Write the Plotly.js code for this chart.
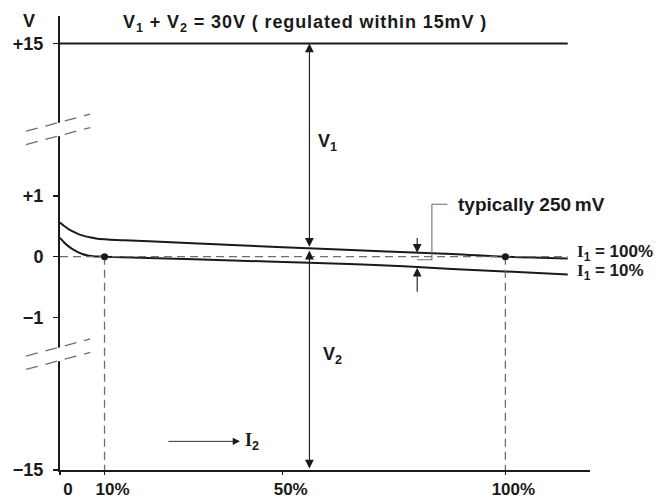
<!DOCTYPE html>
<html>
<head>
<meta charset="utf-8">
<script src="https://cdn.plot.ly/plotly-3.0.1.min.js"></script>
<style>html,body{margin:0;padding:0;background:#fff}#chart{width:667px;height:499px}</style>
</head>
<body>
<div id="chart"></div>
<script>
// ---- data (volts vs I2 in %) ----
const sumX = [0, 114];
const sumV = [15, 15];
const upperX = [0, 1, 2, 3, 4, 5, 6, 7, 8, 10, 14, 20, 35, 50, 72, 88, 100, 114];
const upperV = [0.56, 0.50, 0.45, 0.41, 0.375, 0.35, 0.33, 0.315, 0.30, 0.285, 0.27, 0.255, 0.205, 0.155, 0.09, 0.045, 0.0, -0.03];
const lowerX = [0, 1, 2, 3, 4, 5, 6, 7, 8, 10, 30, 45, 56, 72, 88, 114];
const lowerV = [0.31, 0.23, 0.165, 0.115, 0.075, 0.045, 0.025, 0.012, 0.005, 0, -0.04, -0.075, -0.1, -0.14, -0.2, -0.29];
const zeroX = [0, 114];
const zeroV = [0, 0];
const markX = [10, 100];
const markV = [0, 0];
const xTickVals = [0, 10, 50, 100];
const xTickText = ['0', '10%', '50%', '100%'];
const yTickVolts = [15, 1, 0, -1, -15];
const yTickText = ['+15', '+1', '0', '\u22121', '\u221215'];
const v1Span = [15, 0.14];   // V1 arrow (volts)
const v2Span = [0.1, -15];   // V2 arrow (volts)
const gapArrows = [0.33, 0.065, -0.18, -0.6]; // 250 mV marker arrows (volts)

// broken axis: linear within +-1.5 V, compressed beyond
function disp(v) {
  if (v > 1.5) return 1.5 + (v - 1.5) * (2 / 13.5);
  if (v < -1.5) return -1.5 + (v + 1.5) * (2 / 13.5);
  return v;
}
const D = a => a.map(disp);

const FAMILY = 'Liberation Sans, Arial, sans-serif';
const INK = '#1a1a1a';
const GRAY = '#6e6e6e';
const F = (size) => ({family: FAMILY, size: size, color: INK, weight: 'bold'});
const SERIF_I = "<span style='font-family:Liberation Serif, serif'>I</span>";

const traces = [
  {x: sumX, y: D(sumV), mode: 'lines', line: {color: INK, width: 2}},
  {x: upperX, y: D(upperV), mode: 'lines', line: {color: INK, width: 2, shape: 'spline', smoothing: 1}},
  {x: lowerX, y: D(lowerV), mode: 'lines', line: {color: INK, width: 2, shape: 'spline', smoothing: 1}},
  {x: zeroX, y: D(zeroV), mode: 'lines', line: {color: GRAY, width: 1.3, dash: '8px,5px'}},
  {x: [markX[0], markX[0], null, markX[1], markX[1]], y: D([0, -15, null, 0, -15]), mode: 'lines', line: {color: GRAY, width: 1.3, dash: '8px,5px'}},
  {x: markX, y: D(markV), mode: 'markers', marker: {color: INK, size: 7}}
];

function arrow(x, yTip, yTail, both) {
  return {x: x, y: disp(yTip), ax: x, ay: disp(yTail), xref: 'x', yref: 'y', axref: 'x', ayref: 'y',
    text: '', showarrow: true, arrowhead: 2, arrowsize: 1.6, arrowwidth: 1.1, arrowcolor: INK,
    arrowside: both ? 'end+start' : 'end', standoff: 0, startstandoff: 0};
}
const annotations = [
  arrow(56, v1Span[0], v1Span[1], true),
  arrow(56, v2Span[0], v2Span[1], true),
  arrow(80.2, gapArrows[1], gapArrows[0], false),
  arrow(80.2, gapArrows[2], gapArrows[3], false),
  {x: 40.4, y: -3.03, ax: 24, ay: -3.03, xref: 'x', yref: 'y', axref: 'x', ayref: 'y', text: '', showarrow: true,
   arrowhead: 2, arrowsize: 1.6, arrowwidth: 0.9, arrowcolor: INK, standoff: 0},
  {x: 41.1, y: -3.03, xref: 'x', yref: 'y', xanchor: 'left', yanchor: 'middle', showarrow: false,
   text: SERIF_I + '<sub>2</sub>', font: F(18)},
  {x: 57.5, y: 1.87, xref: 'x', yref: 'y', xanchor: 'left', yanchor: 'middle', showarrow: false,
   text: 'V<sub>1</sub>', font: F(18)},
  {x: 58.5, y: -1.62, xref: 'x', yref: 'y', xanchor: 'left', yanchor: 'middle', showarrow: false,
   text: 'V<sub>2</sub>', font: F(18)},
  {x: 89, y: 0.86, xref: 'x', yref: 'y', xanchor: 'left', yanchor: 'middle', showarrow: false,
   text: 'typically 250\u2009mV', font: F(19)},
  {x: 114, y: 0.065, xref: 'x', yref: 'y', xanchor: 'left', xshift: 7, yanchor: 'middle', showarrow: false,
   text: SERIF_I + '<sub>1</sub> = 100%', font: F(17)},
  {x: 114, y: -0.25, xref: 'x', yref: 'y', xanchor: 'left', xshift: 7, yanchor: 'middle', showarrow: false,
   text: SERIF_I + '<sub>1</sub> = 10%', font: F(17)},
  {x: 0, y: 1, xref: 'paper', yref: 'paper', xanchor: 'center', xshift: -31, yanchor: 'middle', yshift: -5, showarrow: false,
   text: 'V', font: F(18)}
];

// axis-break marks and leader line
function breakShapes(yc) {
  const xl = -0.064, xr = 0.057, s = 0.14;
  const yA = yc + 0.11, yB = yc - 0.11;
  return [
    {type: 'path', xref: 'paper', yref: 'y', layer: 'above', line: {width: 0}, fillcolor: '#fff',
     path: `M -0.015 ${yA - 0.02} L 0.015 ${yA + 0.02} L 0.015 ${yB + 0.02} L -0.015 ${yB - 0.02} Z`},
    {type: 'line', xref: 'paper', yref: 'y', layer: 'above', x0: xl, x1: xr, y0: yA - s, y1: yA + s,
     line: {color: GRAY, width: 1.3, dash: '12px,8px'}},
    {type: 'line', xref: 'paper', yref: 'y', layer: 'above', x0: xl, x1: xr, y0: yB - s, y1: yB + s,
     line: {color: GRAY, width: 1.3, dash: '12px,8px'}}
  ];
}
const shapes = [
  ...breakShapes(2.09),
  ...breakShapes(-1.6),
  {type: 'path', xref: 'x', yref: 'y', line: {color: GRAY, width: 1.1},
   path: 'M 87 0.86 L 83.5 0.86 L 83.5 -0.05 L 80.2 -0.05'}
];

const layout = {
  width: 667, height: 499,
  margin: {l: 60, r: 77, t: 16, b: 29, pad: 0},
  paper_bgcolor: '#fff', plot_bgcolor: '#fff',
  showlegend: false,
  font: {family: FAMILY, color: INK},
  title: {text: "<span style='letter-spacing:0.9px'>V<sub>1</sub> + V<sub>2</sub> = 30V ( regulated within 15mV )</span>",
    x: 123 / 667, xref: 'container', xanchor: 'left', y: 1 - 22 / 499, yref: 'container', yanchor: 'middle',
    font: F(18)},
  xaxis: {range: [0, 119], showgrid: false, zeroline: false, showline: true, linecolor: INK, linewidth: 2,
    ticks: 'outside', ticklen: 3, tickwidth: 1.5, tickcolor: INK, tickvals: xTickVals, ticktext: xTickText,
    tickfont: F(17), ticklabelshift: 8, fixedrange: true},
  yaxis: {range: [-3.5, 3.95], showgrid: false, zeroline: false, showline: true, linecolor: INK, linewidth: 2,
    ticks: 'outside', ticklen: 5, tickwidth: 1.5, tickcolor: INK, tickvals: D(yTickVolts), ticktext: yTickText,
    tickfont: F(18), ticklabelstandoff: 6, fixedrange: true},
  annotations: annotations,
  shapes: shapes
};

Plotly.newPlot('chart', traces, layout, {displayModeBar: false, staticPlot: true});
</script>
</body>
</html>
